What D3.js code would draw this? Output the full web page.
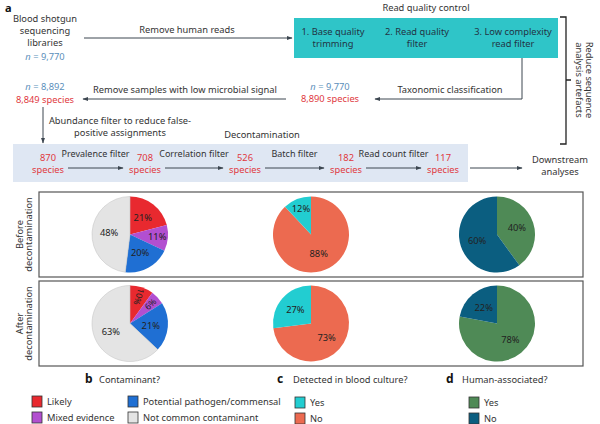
<!DOCTYPE html>
<html><head><meta charset="utf-8">
<script src="https://cdn.jsdelivr.net/npm/d3@7"></script>
<style>body{margin:0;background:#fff}svg{display:block;font-family:"Noto Sans",sans-serif}</style>
</head><body><svg id="c" width="600" height="424"></svg>
<script>
// ---- data ----
const qcSteps = ["1. Base quality|trimming", "2. Read quality|filter", "3. Low complexity|read filter"];
const decontFilters = ["Prevalence filter", "Correlation filter", "Batch filter", "Read count filter"];
const speciesCounts = [870, 708, 526, 182, 117];
const sampleCounts = ["9,770", "9,770", "8,892"];
const speciesTotals = ["8,890", "8,849"];
const rows = ["Before|decontamination", "After|decontamination"];
const contamCats = ["Likely", "Mixed evidence", "Potential pathogen/commensal", "Not common contaminant"];
const contamBefore = [21, 11, 20, 48];
const contamAfter = [10, 6, 21, 63];
const cultureCats = ["No", "Yes"];
const cultureBefore = [88, 12];
const cultureAfter = [73, 27];
const humanCats = ["Yes", "No"];
const humanBefore = [40, 60];
const humanAfter = [78, 22];

// layout (not data)
const speciesX = [48, 145, 245, 346, 443];
const qcX = [333, 417, 513];

const svg = d3.select("#c");
const INK = "#3c4650", BLUE = "#5b8fbb", RED = "#e0383e";
const fs = 9.3;

svg.append("defs").append("marker").attr("id","ar").attr("viewBox","0 0 10 10")
  .attr("refX",9).attr("refY",5).attr("markerWidth",6).attr("markerHeight",6).attr("orient","auto")
  .append("path").attr("d","M0,1.5L10,5L0,8.5Z").attr("fill",INK);

function txt(x,y,s,o={}){
  const lines = s.split("|");
  const t = svg.append("text").attr("x",x).attr("y",y).attr("font-size",o.size||fs)
    .attr("fill",o.fill||"#333").attr("text-anchor",o.anchor||"middle")
    .attr("font-weight",o.weight||"normal");
  if(o.rot!==undefined) t.attr("transform",`rotate(${o.rot},${x},${y})`);
  lines.forEach((l,i)=>t.append("tspan").attr("x",x).attr("dy",i?(o.lh||12):0).text(l));
  return t;
}
function arrow(pts){
  svg.append("path").attr("d",d3.line()(pts)).attr("fill","none").attr("stroke",INK)
    .attr("stroke-width",1).attr("marker-end","url(#ar)");
}
function nText(x,y,v){
  svg.append("text").attr("x",x).attr("y",y).attr("font-size",fs).attr("text-anchor","middle").attr("fill",BLUE)
    .html(`<tspan font-style="italic">n</tspan> = ${v}`);
}

// ---- panel a: flow ----
txt(5,12,"a",{size:11,weight:"bold",anchor:"start",fill:"#111"});
txt(45,22,"Blood shotgun|sequencing|libraries");
nText(45,60,sampleCounts[0]);
arrow([[84,38],[292,38]]);
txt(187,33,"Remove human reads");
txt(426,11,"Read quality control");
svg.append("rect").attr("x",294).attr("y",18).attr("width",264).attr("height",40).attr("fill","#2fc5c8");
qcSteps.forEach((s,i)=>txt(qcX[i],35,s,{fill:"#234"}));
// bracket
svg.append("path").attr("d","M560,17H566V144H560M566,80H571").attr("fill","none").attr("stroke","#222").attr("stroke-width",1.3);
txt(586,80,"Reduce sequence|analysis artefacts",{rot:90,lh:10.5});
// taxonomic classification
arrow([[522,58],[522,99],[375,99]]);
txt(450,93,"Taxonomic classification");
nText(330,90,sampleCounts[1]);
txt(330,102,speciesTotals[0]+" species",{fill:RED});
arrow([[286,99],[83,99]]);
txt(185,93,"Remove samples with low microbial signal");
nText(45,90,sampleCounts[2]);
txt(45,103,speciesTotals[1]+" species",{fill:RED});
arrow([[43,107],[43,143]]);
txt(120,124,"Abundance filter to reduce false-|positive assignments",{lh:12});
txt(262,138,"Decontamination");
svg.append("rect").attr("x",13).attr("y",144).attr("width",455).attr("height",38).attr("fill","#dfe7f3");
speciesCounts.forEach((v,i)=>txt(speciesX[i],161,v+"|species",{fill:RED,lh:12}));
decontFilters.forEach((f,i)=>{
  const a = speciesX[i]+20, b = speciesX[i+1]-22;
  arrow([[a,168],[b,168]]);
  txt((a+b)/2,157,f,{size:9});
});
arrow([[470,168],[522,168]]);
txt(560,163,"Downstream|analyses",{lh:12});

// ---- pies ----
const panelY = [192,281], panelH = 85;
panelY.forEach((y,i)=>{
  svg.append("rect").attr("x",39).attr("y",y).attr("width",544).attr("height",panelH)
    .attr("fill","none").attr("stroke","#555").attr("stroke-width",1.2);
  const lines = rows[i].split("|");
  txt(23,y+panelH/2,lines[0],{rot:-90});
  txt(32,y+panelH/2,lines[1],{rot:-90});
});
const contamCol = ["#e8292f","#b24fd0","#1f6fd3","#e4e4e4"];
const cultureCol = ["#ec6a50","#22cdd1"];
const humanCol = ["#4f8a56","#0b5e80"];
const pieDefs = [
  {cx:130, data:[contamBefore,contamAfter], col:contamCol},
  {cx:311, data:[cultureBefore,cultureAfter], col:cultureCol},
  {cx:497, data:[humanBefore,humanAfter], col:humanCol}
];
const R = 38;
const pie = d3.pie().sort(null);
const arc = d3.arc().innerRadius(0).outerRadius(R);
pieDefs.forEach(pd=>{
  pd.data.forEach((vals,ri)=>{
    const cy = panelY[ri]+panelH/2;
    const g = svg.append("g").attr("transform",`translate(${pd.cx},${cy})`);
    const arcs = pie(vals);
    g.selectAll("path").data(arcs).join("path").attr("d",arc)
      .attr("fill",(d,i)=>pd.col[i]).attr("stroke",(d,i)=>pd.col[i]==="#e4e4e4"?"#c8c8c8":"none").attr("stroke-width",0.6);
    arcs.forEach((a,i)=>{
      const frac = vals[i]/100;
      const small = frac<=0.1;
      const rr = small ? R*0.74 : frac<0.15 ? R*0.72 : R*0.55;
      const m = (a.startAngle+a.endAngle)/2;
      const deg = m*180/Math.PI;
      const x = Math.sin(m)*rr, y = -Math.cos(m)*rr;
      const t = g.append("text").attr("x",x).attr("y",y).attr("dy","0.35em").attr("text-anchor","middle")
        .attr("font-size",small?8.6:9.3).attr("fill","#222").text(vals[i]+"%");
      if(small) t.attr("transform",`rotate(${deg<30?deg+90:deg-90},${x},${y})`);
    });
  });
});

// ---- legends ----
txt(85,383,"b",{size:12,weight:"bold",anchor:"start",fill:"#111"});
txt(99,383,"Contaminant?",{anchor:"start"});
txt(277,383,"c",{size:12,weight:"bold",anchor:"start",fill:"#111"});
txt(293,383,"Detected in blood culture?",{anchor:"start"});
txt(446,383,"d",{size:12,weight:"bold",anchor:"start",fill:"#111"});
txt(462,383,"Human-associated?",{anchor:"start"});
function legItem(x,y,c,label){
  svg.append("rect").attr("x",x).attr("y",y).attr("width",10).attr("height",11).attr("fill",c).attr("stroke","#333").attr("stroke-width",0.8);
  txt(x+15,y+9,label,{anchor:"start"});
}
legItem(32,396,contamCol[0],contamCats[0]);
legItem(32,412,contamCol[1],contamCats[1]);
legItem(128,396,contamCol[2],contamCats[2]);
legItem(128,412,contamCol[3],contamCats[3]);
legItem(295,397,cultureCol[1],"Yes");
legItem(295,413,cultureCol[0],"No");
legItem(469,397,humanCol[0],"Yes");
legItem(469,413,humanCol[1],"No");
</script></body></html>
